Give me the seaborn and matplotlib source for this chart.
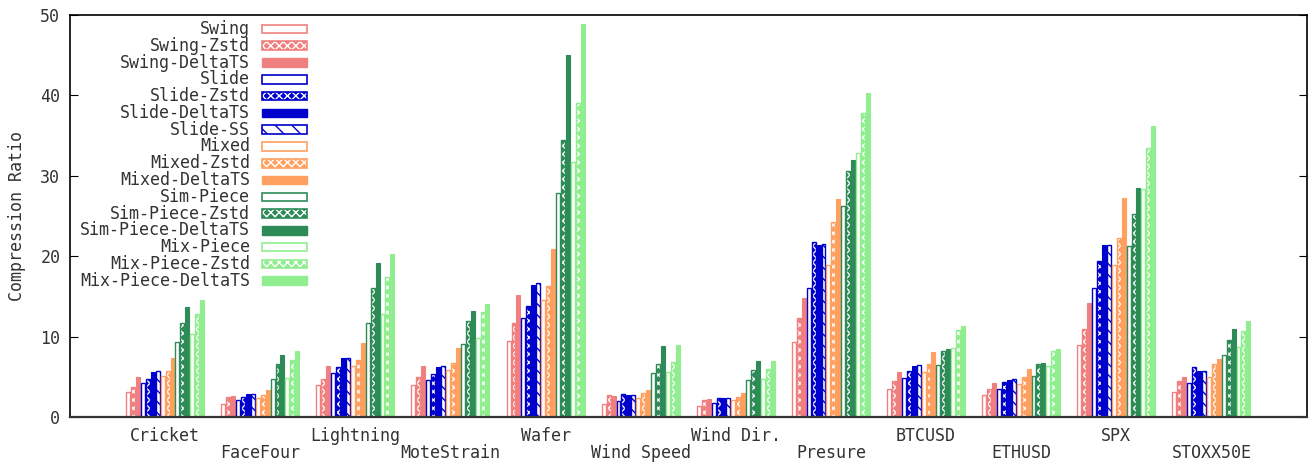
import matplotlib
matplotlib.use("Agg")
import matplotlib.pyplot as plt
import seaborn as sns
import pandas as pd
from matplotlib.patches import Rectangle

datasets = ["Cricket", "FaceFour", "Lightning", "MoteStrain", "Wafer", "Wind Speed",
            "Wind Dir.", "Presure", "BTCUSD", "ETHUSD", "SPX", "STOXX50E"]

methods = ["Swing", "Swing-Zstd", "Swing-DeltaTS",
           "Slide", "Slide-Zstd", "Slide-DeltaTS", "Slide-SS",
           "Mixed", "Mixed-Zstd", "Mixed-DeltaTS",
           "Sim-Piece", "Sim-Piece-Zstd", "Sim-Piece-DeltaTS",
           "Mix-Piece", "Mix-Piece-Zstd", "Mix-Piece-DeltaTS"]

swing = [3.15, 1.6, 3.95, 3.95, 9.5, 1.57, 1.41, 9.3, 3.44, 2.7, 8.9, 3.07]
swing_zstd = [3.7, 2.5, 4.77, 4.93, 11.7, 2.77, 2.07, 12.28, 4.48, 3.48, 11.0, 4.48]
swing_deltats = [5.0, 2.6, 6.3, 6.3, 15.2, 2.57, 2.24, 14.85, 5.55, 4.27, 14.15, 4.93]
slide = [4.2, 2.1, 5.5, 4.65, 12.3, 2.03, 1.78, 16.1, 4.8, 3.48, 16.1, 4.27]
slide_zstd = [4.7, 2.45, 6.2, 5.3, 13.75, 2.86, 2.32, 21.8, 5.75, 4.3, 19.45, 6.18]
slide_deltats = [5.55, 2.85, 7.3, 6.17, 16.4, 2.7, 2.4, 21.45, 6.38, 4.64, 21.45, 5.68]
slide_ss = [5.7, 2.8, 7.4, 6.4, 16.7, 2.7, 2.36, 21.5, 6.47, 4.68, 21.45, 5.68]
mixed = [5.05, 2.35, 6.4, 5.85, 14.6, 2.32, 2.1, 18.9, 5.64, 4.1, 18.9, 4.97]
mixed_zstd = [5.68, 2.7, 7.15, 6.67, 16.3, 2.95, 2.49, 24.2, 6.55, 4.93, 22.3, 6.55]
mixed_deltats = [7.4, 3.3, 9.2, 8.6, 20.9, 3.36, 2.98, 27.15, 8.08, 5.93, 27.25, 7.2]
simpiece = [9.3, 4.7, 11.7, 9.05, 27.9, 5.43, 4.64, 26.3, 6.5, 5.06, 21.3, 7.67]
simpiece_zstd = [11.7, 6.55, 16.1, 12.0, 34.5, 6.55, 5.8, 30.65, 8.25, 6.6, 25.3, 9.6]
simpiece_deltats = [13.7, 7.7, 19.2, 13.2, 45.0, 8.87, 6.97, 31.95, 8.5, 6.68, 28.45, 11.0]
mixpiece = [10.3, 4.9, 12.85, 9.87, 31.75, 5.63, 4.77, 32.8, 8.54, 6.34, 28.4, 8.67]
mixpiece_zstd = [12.85, 7.05, 17.45, 13.0, 39.1, 6.8, 5.93, 37.85, 10.86, 8.2, 33.4, 10.66]
mixpiece_deltats = [14.6, 8.2, 20.3, 14.05, 48.9, 9.0, 7.0, 40.25, 11.3, 8.5, 36.2, 11.94]

series = [swing, swing_zstd, swing_deltats, slide, slide_zstd, slide_deltats, slide_ss,
          mixed, mixed_zstd, mixed_deltats, simpiece, simpiece_zstd, simpiece_deltats,
          mixpiece, mixpiece_zstd, mixpiece_deltats]

family_colors = {"Swing": "#f08080", "Slide": "#0000cd", "Mixed": "#ffa060",
                 "Sim-Piece": "#2e8b57", "Mix-Piece": "#90ee90"}

TEXT = "#333333"


def style_of(m):
    for suf in ("-Zstd", "-DeltaTS", "-SS"):
        if m.endswith(suf):
            return m[: -len(suf)], suf[1:]
    return m, "empty"


rows = []
for m, vals in zip(methods, series):
    for d, v in zip(datasets, vals):
        rows.append({"dataset": d, "method": m, "ratio": v})
df = pd.DataFrame(rows)

plt.rcParams["hatch.linewidth"] = 1.0
plt.rcParams["font.family"] = ["DejaVu Sans Mono", "DejaVu Sans"]
plt.rcParams["font.size"] = 12

fig = plt.figure(figsize=(13.12, 4.63), dpi=100)
ax = fig.add_axes([70 / 1312, 1 - 417 / 463, 1236.5 / 1312, 402 / 463])

palette = {m: family_colors[style_of(m)[0]] for m in methods}
sns.barplot(data=df, x="dataset", y="ratio", hue="method", order=datasets,
            hue_order=methods, palette=palette, width=0.83, errorbar=None,
            saturation=1, legend=False, ax=ax)

for cont, m in zip(ax.containers, methods):
    fam, st = style_of(m)
    col = family_colors[fam]
    for p in cont:
        w = p.get_width()
        p.set_x(p.get_x() + 0.1 * w)
        p.set_width(0.8 * w)
        if st == "empty":
            p.set_facecolor("white")
            p.set_edgecolor(col)
            p.set_linewidth(1.0)
        elif st == "DeltaTS":
            p.set_facecolor(col)
            p.set_edgecolor(col)
            p.set_linewidth(0.8)
        elif st == "SS":
            p.set_facecolor("white")
            p.set_edgecolor(col)
            p.set_hatch("\\\\\\")
            p.set_linewidth(1.0)
        else:  # Zstd
            p.set_facecolor(col)
            p.set_edgecolor("white")
            p.set_hatch("xxxx")
            p.set_linewidth(0)
            ax.add_patch(Rectangle((p.get_x(), p.get_y()), p.get_width(), p.get_height(),
                                   fill=False, edgecolor=col, linewidth=1.0, zorder=p.get_zorder() + 0.1))

ax.set_xlim(-1, 12)
ax.set_ylim(0, 50)
ax.set_yticks([0, 10, 20, 30, 40, 50])
ax.set_xticks(range(len(datasets)))
ax.set_xticklabels(datasets)
ax.set_xlabel("")
ax.set_ylabel("Compression Ratio", fontsize=12, labelpad=10, color=TEXT)
ax.tick_params(axis="y", direction="in", length=6, right=True, pad=7, labelsize=12,
               labelcolor=TEXT)
ax.tick_params(axis="x", length=0, pad=7, labelsize=12, labelcolor=TEXT)
for t in ax.xaxis.get_major_ticks()[1::2]:
    t.set_pad(7 + 17 / 1.389)
for s in ax.spines.values():
    s.set_linewidth(1.2)
    s.set_color("black")
ax.spines["bottom"].set_linewidth(1.6)
ax.spines["bottom"].set_color("#333333")


# Legend (gnuplot style: right-aligned text, sample on the right)
def ax_x(px):
    return (px - 70) / 1236.5


def ax_y(py):
    return (417 - py) / 402


for i, m in enumerate(methods):
    fam, st = style_of(m)
    col = family_colors[fam]
    yc = 29 + i * 16.78
    ax.text(ax_x(250), ax_y(yc), m, transform=ax.transAxes, ha="right", va="center",
            fontsize=12, color=TEXT)
    x0, y0 = ax_x(262), ax_y(yc + 4.3)
    w, h = ax_x(307) - ax_x(262), 8.6 / 402
    kw = dict(transform=ax.transAxes, clip_on=False)
    if st == "empty":
        ax.add_patch(Rectangle((x0, y0), w, h, facecolor="white", edgecolor=col, linewidth=1.2, **kw))
    elif st == "DeltaTS":
        ax.add_patch(Rectangle((x0, y0), w, h, facecolor=col, edgecolor=col, linewidth=1.0, **kw))
    elif st == "SS":
        ax.add_patch(Rectangle((x0, y0), w, h, facecolor="white", edgecolor=col, hatch="\\\\",
                               linewidth=1.2, **kw))
    else:
        ax.add_patch(Rectangle((x0, y0), w, h, facecolor=col, edgecolor="white", hatch="xxxx",
                               linewidth=0, **kw))
        ax.add_patch(Rectangle((x0, y0), w, h, fill=False, edgecolor=col, linewidth=1.2, **kw))

fig.savefig("out.png", dpi=100)
